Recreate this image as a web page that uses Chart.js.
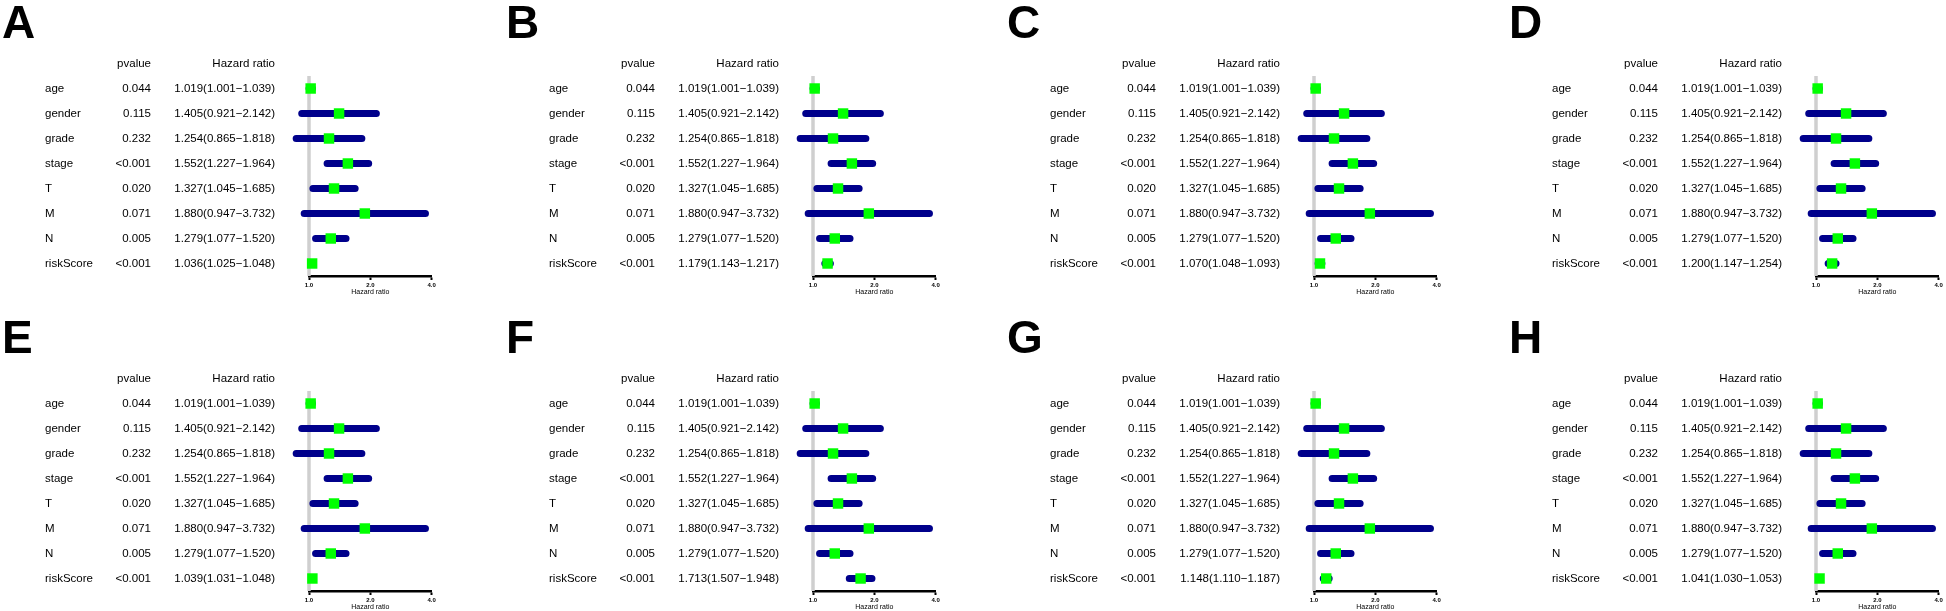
<!DOCTYPE html>
<html>
<head>
<meta charset="utf-8">
<script src="https://cdn.jsdelivr.net/npm/chart.js@4.4.0/dist/chart.umd.min.js"></script>
<style>
  html, body { margin: 0; padding: 0; background: #fff; overflow: hidden; }
  #wrap { position: relative; width: 1946px; height: 611px; }
  canvas { position: absolute; }
</style>
</head>
<body>
<div id="wrap"></div>
<script>
// variables shown in every panel
const variables = ["age", "gender", "grade", "stage", "T", "M", "N", "riskScore"];
const pvalues = ["0.044", "0.115", "0.232", "<0.001", "0.020", "0.071", "0.005", "<0.001"];

// clinical rows are the same in all 8 panels
const clinicalHR = [1.019, 1.405, 1.254, 1.552, 1.327, 1.880, 1.279];
const clinicalLow = [1.001, 0.921, 0.865, 1.227, 1.045, 0.947, 1.077];
const clinicalHigh = [1.039, 2.142, 1.818, 1.964, 1.685, 3.732, 1.520];

// riskScore row, one value per panel A..H
const panelLetters = ["A", "B", "C", "D", "E", "F", "G", "H"];
const riskHR = [1.036, 1.179, 1.070, 1.200, 1.039, 1.713, 1.148, 1.041];
const riskLow = [1.025, 1.143, 1.048, 1.147, 1.031, 1.507, 1.110, 1.030];
const riskHigh = [1.048, 1.217, 1.093, 1.254, 1.048, 1.948, 1.187, 1.053];

const xTicks = [1, 2, 4];

const FONT = '"Liberation Sans", Arial, Helvetica, sans-serif';
const colLeft = [0, 504, 1005, 1507];
const rowTop = [0, 315];

function fmtHR(hr, lo, hi) {
  return hr.toFixed(3) + "(" + lo.toFixed(3) + "\u2212" + hi.toFixed(3) + ")";
}

// draws the grey line at HR = 1 and the text table left of the plot
const forestTable = {
  id: "forestTable",
  beforeDatasetsDraw(chart) {
    const { ctx, chartArea, scales } = chart;
    const x1 = scales.x.getPixelForValue(1);
    ctx.save();
    ctx.strokeStyle = "#cfcfcf";
    ctx.lineWidth = 3.5;
    ctx.beginPath();
    ctx.moveTo(x1, chartArea.top);
    ctx.lineTo(x1, chartArea.bottom);
    ctx.stroke();
    ctx.restore();
  },
  afterDraw(chart, args, opts) {
    const { ctx, chartArea, scales } = chart;
    const left = chartArea.left;
    const y = scales.y;
    const gap = y.getPixelForValue(1) - y.getPixelForValue(0);
    ctx.save();
    ctx.fillStyle = "#000";

    // panel letter
    ctx.font = "bold 46px " + FONT;
    ctx.textAlign = "left";
    ctx.textBaseline = "alphabetic";
    ctx.fillText(opts.letter, 2, 38);

    ctx.font = "11.5px " + FONT;
    ctx.textBaseline = "middle";
    const hy = y.getPixelForValue(0) - gap;
    ctx.textAlign = "right";
    ctx.fillText("pvalue", left - 158, hy);
    ctx.fillText("Hazard ratio", left - 34, hy);

    variables.forEach((name, i) => {
      const py = y.getPixelForValue(i);
      ctx.textAlign = "left";
      ctx.fillText(name, left - 264, py);
      ctx.textAlign = "right";
      ctx.fillText(pvalues[i], left - 158, py);
      ctx.fillText(opts.hrText[i], left - 34, py);
    });
    ctx.restore();
  }
};

const wrap = document.getElementById("wrap");

panelLetters.forEach((letter, p) => {
  const hr = clinicalHR.concat(riskHR[p]);
  const lo = clinicalLow.concat(riskLow[p]);
  const hi = clinicalHigh.concat(riskHigh[p]);

  // confidence interval segments: low -> high on each row, broken by a gap point
  const ciPoints = [];
  variables.forEach((name, i) => {
    ciPoints.push({ x: lo[i], y: name }, { x: hi[i], y: name }, { x: null, y: name });
  });

  const canvas = document.createElement("canvas");
  canvas.width = 439;
  canvas.height = 300;
  canvas.style.left = colLeft[p % 4] + "px";
  canvas.style.top = rowTop[Math.floor(p / 4)] + "px";
  wrap.appendChild(canvas);

  new Chart(canvas.getContext("2d"), {
    type: "line",
    data: {
      labels: variables,
      datasets: [
        {
          data: hr,
          showLine: false,
          pointStyle: "rect",
          pointRadius: 7.4,
          pointBackgroundColor: "#00ff00",
          pointBorderWidth: 0,
          clip: false,
          order: 0,
        },
        {
          data: ciPoints,
          borderColor: "#00008b",
          borderWidth: 7,
          borderCapStyle: "round",
          pointRadius: 0,
          spanGaps: false,
          clip: false,
          order: 1,
        },
      ],
    },
    options: {
      indexAxis: "y",
      responsive: false,
      animation: false,
      events: [],
      layout: { padding: { left: 309, right: 4, top: 76, bottom: 4 } },
      scales: {
        y: { type: "category", display: false, offset: true },
        x: {
          type: "logarithmic",
          min: 1,
          max: 4,
          afterBuildTicks: (s) => {
            s.ticks = xTicks.map((v) => ({ value: v }));
          },
          afterFit: (s) => {
            s.height = 20;
          },
          ticks: {
            callback: (v) => Number(v).toFixed(1),
            font: { size: 6, weight: "bold", family: FONT },
            color: "#000",
            padding: 2,
            maxRotation: 0,
            autoSkip: false,
          },
          grid: { drawOnChartArea: false, drawTicks: true, tickLength: 4, tickWidth: 2, tickColor: "#000" },
          border: { display: true, color: "#000", width: 2.5 },
          title: {
            display: true,
            text: "Hazard ratio",
            font: { size: 7, family: FONT },
            color: "#000",
            padding: { top: 0, bottom: 0 },
          },
        },
      },
      plugins: {
        legend: { display: false },
        tooltip: { enabled: false },
        forestTable: { letter: letter, hrText: hr.map((v, i) => fmtHR(v, lo[i], hi[i])) },
      },
    },
    plugins: [forestTable],
  });
});
</script>
</body>
</html>
